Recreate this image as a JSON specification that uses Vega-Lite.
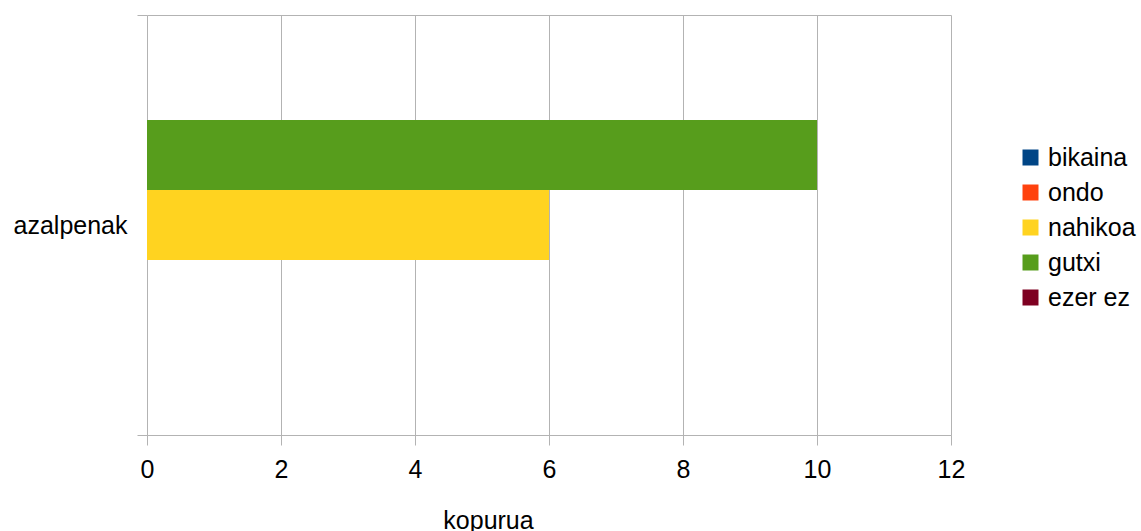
{
  "$schema": "https://vega.github.io/schema/vega-lite/v6.json",
  "width": 804,
  "height": 420,
  "autosize": {"type": "none"},
  "padding": {"left": 147, "top": 15, "right": 190, "bottom": 96},
  "background": "white",
  "config": {
    "view": {"stroke": null},
    "font": "Liberation Sans"
  },
  "data": {
    "values": [
      {"kategoria": "azalpenak", "maila": "bikaina", "kopurua": 0},
      {"kategoria": "azalpenak", "maila": "ondo", "kopurua": 0},
      {"kategoria": "azalpenak", "maila": "nahikoa", "kopurua": 6},
      {"kategoria": "azalpenak", "maila": "gutxi", "kopurua": 10},
      {"kategoria": "azalpenak", "maila": "ezer ez", "kopurua": 0}
    ]
  },
  "mark": {"type": "bar", "strokeWidth": 0},
  "encoding": {
    "y": {
      "field": "kategoria",
      "type": "nominal",
      "scale": {"paddingInner": 0, "paddingOuter": 0},
      "axis": {
        "title": null,
        "tickBand": "extent",
        "tickSize": 10,
        "tickColor": "#b3b3b3",
        "grid": true,
        "gridColor": "#b3b3b3",
        "domain": false,
        "labelPadding": 10,
        "labelFontSize": 25,
        "labelColor": "#000000",
        "labelFont": "Liberation Sans"
      }
    },
    "yOffset": {
      "field": "maila",
      "type": "nominal",
      "sort": ["ezer ez", "gutxi", "nahikoa", "ondo", "bikaina"],
      "scale": {"paddingInner": 0, "paddingOuter": 0.5}
    },
    "x": {
      "field": "kopurua",
      "type": "quantitative",
      "scale": {"domain": [0, 12], "nice": false},
      "axis": {
        "values": [0, 2, 4, 6, 8, 10, 12],
        "title": "kopurua",
        "titleFont": "Liberation Sans",
        "titleFontSize": 25,
        "titleFontWeight": "normal",
        "titleColor": "#000000",
        "titleX": 341,
        "titleY": 85,
        "titleBaseline": "middle",
        "tickSize": 10,
        "tickColor": "#b3b3b3",
        "domainColor": "#b3b3b3",
        "grid": true,
        "gridColor": "#b3b3b3",
        "labelFlush": false,
        "labelPadding": 12,
        "labelFontSize": 25,
        "labelColor": "#000000",
        "labelFont": "Liberation Sans"
      }
    },
    "color": {
      "field": "maila",
      "type": "nominal",
      "scale": {
        "domain": ["bikaina", "ondo", "nahikoa", "gutxi", "ezer ez"],
        "range": ["#004586", "#ff420e", "#ffd320", "#579d1c", "#7e0021"]
      },
      "legend": {
        "title": null,
        "orient": "none",
        "legendX": 871,
        "legendY": 130,
        "symbolType": "square",
        "symbolSize": 256,
        "symbolStrokeWidth": 0,
        "symbolOpacity": 1,
        "labelFontSize": 25,
        "labelColor": "#000000",
        "labelFont": "Liberation Sans",
        "labelOffset": 5,
        "rowPadding": 9,
        "labelLimit": 200
      }
    }
  }
}
